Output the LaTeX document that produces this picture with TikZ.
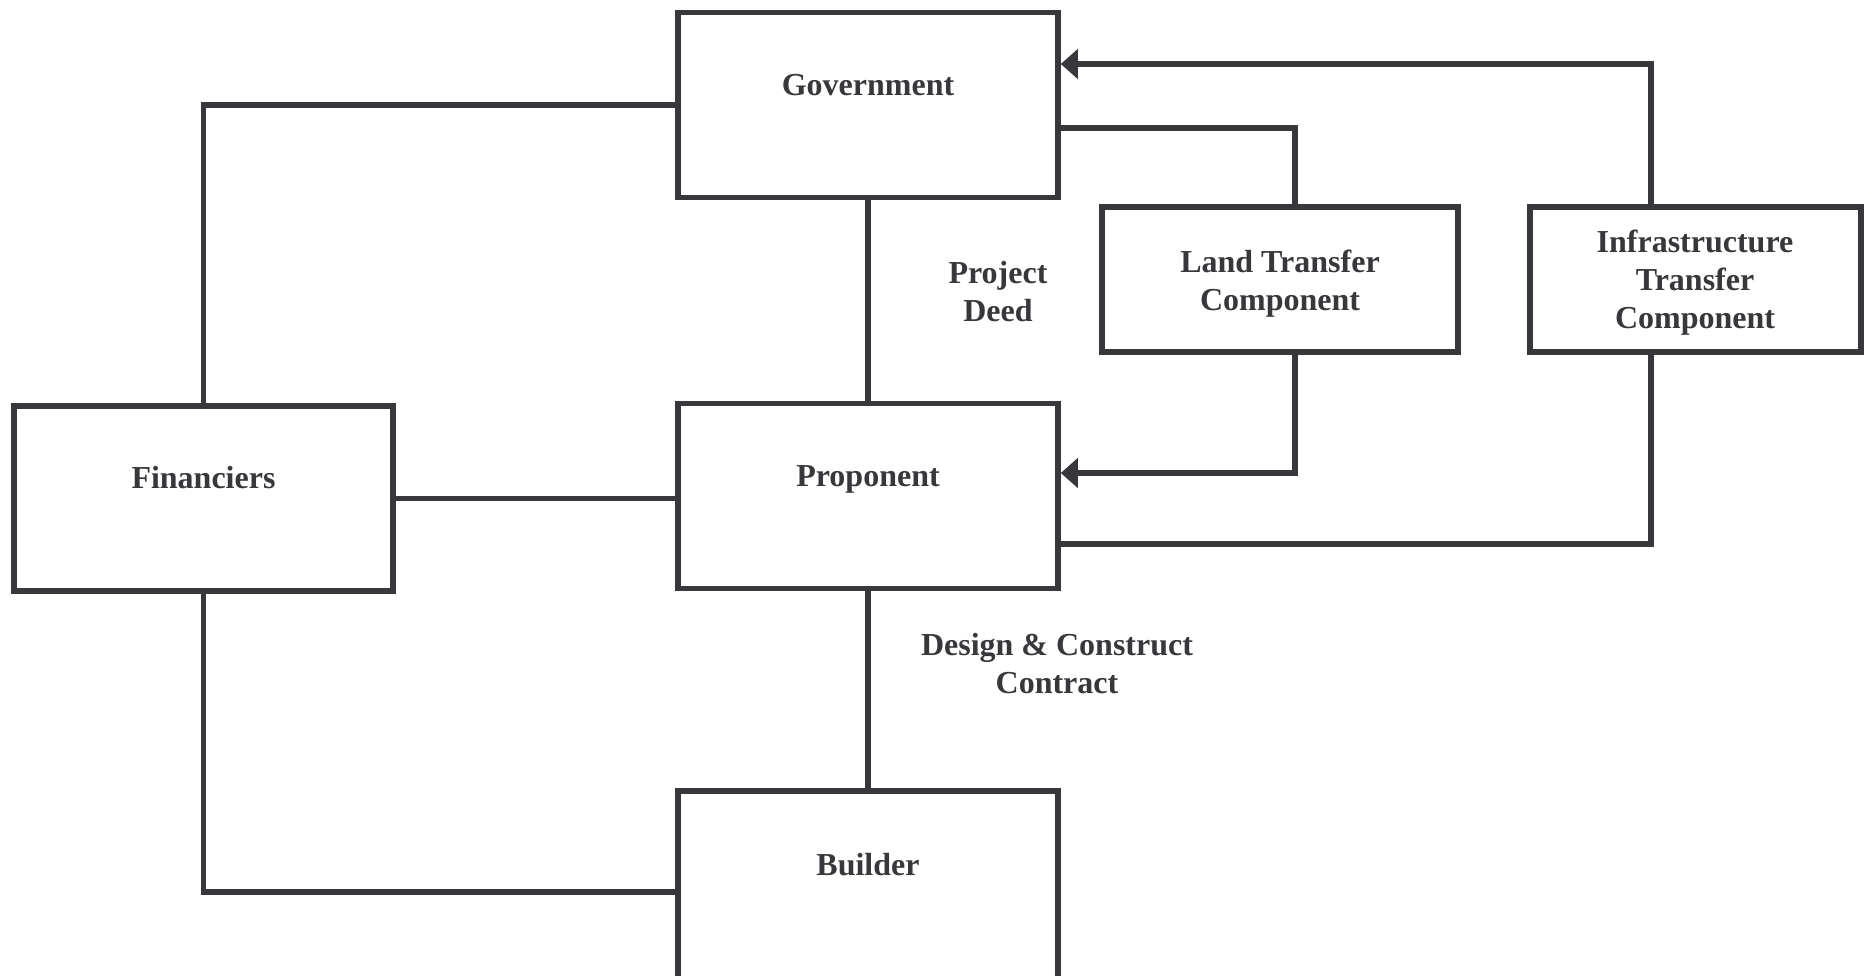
\documentclass[tikz,border=0pt]{standalone}
\usepackage{fontspec}
\setmainfont{Liberation Serif}
\usetikzlibrary{arrows.meta}
\definecolor{ink}{HTML}{38373B}
\begin{document}
\begin{tikzpicture}[x=1pt,y=-1pt,
  box/.style={draw=ink, line width=5.5pt, rectangle, inner sep=0pt, fill=white},
  lbl/.style={text=ink, font=\fontsize{32}{38}\selectfont\bfseries, inner sep=0pt, anchor=base},
  conn/.style={draw=ink, line width=5.5pt},
  arr/.style={conn, -{Triangle[length=17pt,width=29pt]}}]
\useasboundingbox (0,0) rectangle (1872,975);
% boxes
\node[box, minimum width=380pt, minimum height=185pt] (gov) at (868,105) {};
\node[box, minimum width=380pt, minimum height=185pt] (prop) at (868,496) {};
\node[box, minimum width=380pt, minimum height=202pt] (build) at (868,892) {};
\node[box, minimum width=379pt, minimum height=185pt] (fin) at (203.5,498.5) {};
\node[box, minimum width=356pt, minimum height=145pt] (land) at (1280,279.5) {};
\node[box, minimum width=331pt, minimum height=145pt] (infra) at (1695.5,279.5) {};
% box texts
\node[lbl] (govt) at (868,95) {Government};
\node[lbl] (propt) at (868,486) {Proponent};
\node[lbl] (buildt) at (868,875) {Builder};
\node[lbl] (fint) at (203.5,488) {Financiers};
\node[lbl] (landt) at (1280,272) {\begin{tabular}[t]{@{}c@{}}Land Transfer\\Component\end{tabular}};
\node[lbl] (infrat) at (1695,252) {\begin{tabular}[t]{@{}c@{}}Infrastructure\\Transfer\\Component\end{tabular}};
% free labels
\node[lbl] (deed) at (998,283) {\begin{tabular}[t]{@{}c@{}}Project\\Deed\end{tabular}};
\node[lbl] (dc) at (1057,655) {\begin{tabular}[t]{@{}c@{}}Design \& Construct\\Contract\end{tabular}};
% connectors
\draw[conn] (gov.west) -| (fin.north);
\draw[conn] (gov.south) -- (prop.north);
\draw[conn] (fin.east) -- (fin.east -| prop.west);
\draw[conn] (fin.south) |- (build.west);
\draw[conn] (prop.south) -- (build.north);
\draw[conn] ([yshift=-23pt]gov.east) -| ([xshift=15pt]land.north);
\draw[arr] ([xshift=15pt]land.south) |- ([yshift=23pt]prop.east);
\draw[arr] ([xshift=-44.5pt]infra.north) |- ([yshift=41pt]gov.east);
\draw[conn] ([xshift=-44.5pt]infra.south) |- ([yshift=-48pt]prop.east);
\end{tikzpicture}
\end{document}
